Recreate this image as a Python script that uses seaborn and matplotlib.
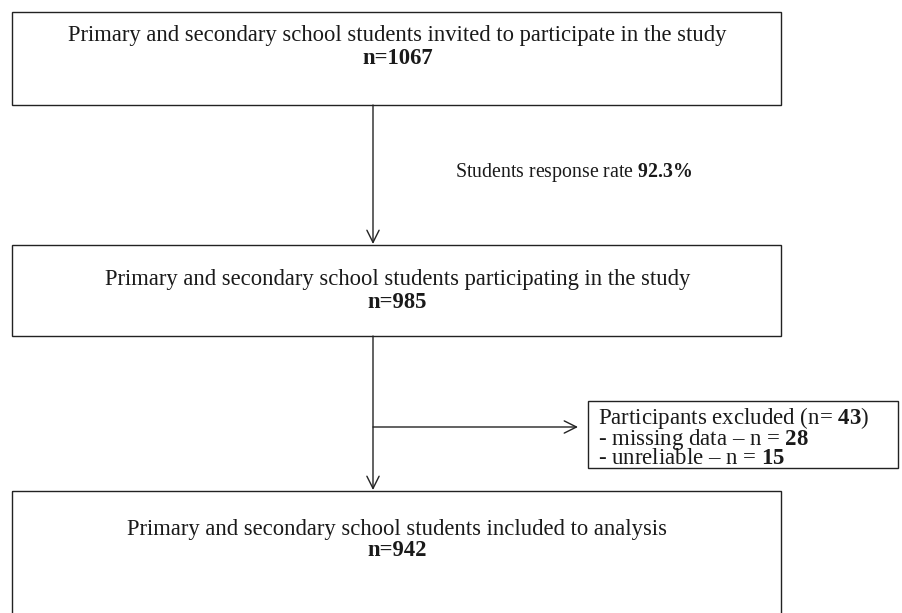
import matplotlib
matplotlib.use("Agg")
import matplotlib.pyplot as plt
import seaborn as sns
from matplotlib.patches import Rectangle

# flow stages (main column)
stage_labels = [
    "Primary and secondary school students invited to participate in the study",
    "Primary and secondary school students participating in the study",
    "Primary and secondary school students included to analysis",
]
stage_counts = [1067, 985, 942]
response_rate = 92.3

# exclusions
excluded_total = 43
excluded_reasons = ["missing data", "unreliable"]
excluded_counts = [28, 15]

sns.set_theme(style="white")
plt.rcParams["font.family"] = ["Liberation Serif", "DejaVu Serif"]
plt.rcParams["mathtext.fontset"] = "custom"
plt.rcParams["mathtext.rm"] = "Liberation Serif"
plt.rcParams["mathtext.bf"] = "Liberation Serif:bold"

fig = plt.figure(figsize=(9.03, 6.13), dpi=100)
ax = fig.add_axes([0, 0, 1, 1])
ax.set_xlim(0, 903)
ax.set_ylim(613, 0)
ax.axis("off")

fs = 16.3
txt_col = "#1a1a1a"
line_col = "#222222"

# main boxes: (top, bottom)
box_y = [(12, 105), (245, 336), (491, 640)]
box_x = (12, 781)
text_y = [(36, 58), (280, 302), (529, 551)]

for (top, bot), (ty1, ty2), lab, n in zip(box_y, text_y, stage_labels, stage_counts):
    ax.add_patch(Rectangle((box_x[0], top), box_x[1] - box_x[0], bot - top,
                           fill=False, ec=line_col, lw=1.0))
    cx = (box_x[0] + box_x[1]) / 2 + 1
    ax.text(cx, ty1, lab, ha="center", va="center", fontsize=fs, color=txt_col)
    ax.text(cx, ty2, f"n={n}", ha="center", va="center", fontsize=fs,
            fontweight="bold", color=txt_col)

arrow_kw = dict(arrowstyle="->", color=line_col, lw=1.0, mutation_scale=22,
                shrinkA=0, shrinkB=0)
xm = 373
ax.annotate("", xy=(xm, box_y[1][0] - 1), xytext=(xm, box_y[0][1]), arrowprops=arrow_kw)
ax.annotate("", xy=(xm, box_y[2][0] - 1), xytext=(xm, box_y[1][1]), arrowprops=arrow_kw)

ax.text(455, 172, "Students response rate $\\mathbf{" + f"{response_rate}" + "\\%}$",
        ha="left", va="center", fontsize=14.3, color=txt_col)

# exclusion branch
yb = 427
ax.annotate("", xy=(578, yb), xytext=(xm, yb), arrowprops=arrow_kw)
ax.add_patch(Rectangle((588, 401), 310, 67, fill=False, ec=line_col, lw=1.0))
ex_lines = [f"Participants excluded (n= $\\mathbf{{{excluded_total}}}$)"]
for r, c in zip(excluded_reasons, excluded_counts):
    ex_lines.append(f"- {r} – n = $\\mathbf{{{c}}}$")
ax.text(598, 437, "\n".join(ex_lines), ha="left", va="center", fontsize=16.5,
        color=txt_col, linespacing=0.78)

fig.savefig("out.png", dpi=100)
